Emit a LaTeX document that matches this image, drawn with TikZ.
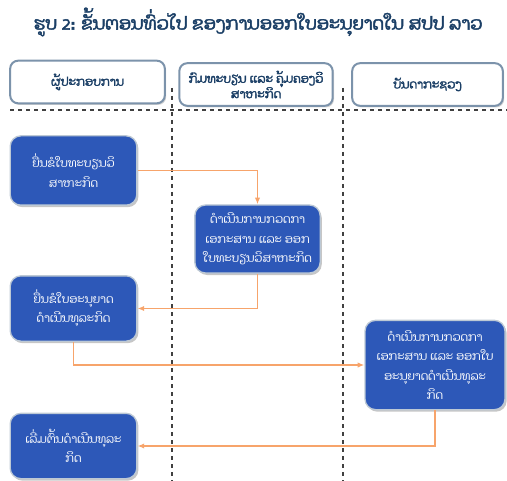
\documentclass[tikz,border=0pt]{standalone}
\usepackage{fontspec}
\newfontfamily\laofont[Script=Lao,AutoFakeBold=2.5]{Dhyana}
\usetikzlibrary{arrows.meta,shadows}

\definecolor{boxblue}{HTML}{2D58B8}
\definecolor{boxedge}{HTML}{7C93AB}
\definecolor{headtext}{HTML}{1B3F66}
\definecolor{linkorange}{HTML}{F7A46B}

\begin{document}
\begin{tikzpicture}[
  x=0.75pt,
  y=-0.75pt,
  head/.style={
    draw=boxedge,
    line width=1.5pt,
    fill=white,
    rounded corners=6pt,
    align=center,
    text=headtext,
    font=\laofont\bfseries\fontsize{9}{11.5}\selectfont,
    minimum height=32pt,
    drop shadow={opacity=0.35,shadow xshift=1pt,shadow yshift=-1.2pt}
  },
  task/.style={
    draw=boxedge!50,
    line width=1pt,
    fill=boxblue,
    rounded corners=8pt,
    align=center,
    text=white,
    inner sep=2pt,
    font=\laofont\fontsize{8.8}{14.5}\selectfont,
    minimum width=95pt,
    drop shadow={opacity=0.45,shadow xshift=1.2pt,shadow yshift=-1.5pt}
  },
  lane/.style={dashed,thick,black!75},
  line/.style={-{Latex[length=5pt,width=4pt]},linkorange,line width=1.1pt}
]
\useasboundingbox (0,0) rectangle (507,481);

% title
\node[font=\laofont\bfseries\fontsize{13.4}{16}\selectfont,text=headtext] (title) at (258,22)
  {ຮູບ 2: ຂັ້ນຕອນທົ່ວໄປ ຂອງການອອກໃບອະນຸຍາດໃນ ສປປ ລາວ};

% swimlanes
\draw[lane] (10,110) -- (507,110);
\draw[lane] (172,88) -- (172,481);
\draw[lane] (343,88) -- (343,481);

\node[head,minimum width=116pt] (bizhead) at (87.5,82) {ຜູ້ປະກອບການ};
\node[head,minimum width=115pt] (erohead) at (256,84.5) {ກົມທະບຽນ ແລະ ຄຸ້ມຄອງວິ\\ສາຫະກິດ};
\node[head,minimum width=113pt] (minhead) at (427.5,84.5) {ບັນດາກະຊວງ};

\node[task,minimum height=52pt] (regapply) at (73.5,170.5) {ຍື່ນຂໍໃບທະບຽນວິ\\ສາຫະກິດ};
\node[task,minimum width=94pt,minimum height=51pt] (regcheck) at (257.5,239) {ດຳເນີນການກວດກາ\\ເອກະສານ ແລະ ອອກ\\ໃບທະບຽນວິສາຫະກິດ};
\node[task,minimum height=49pt] (licapply) at (73.5,308.5) {ຍື່ນຂໍໃບອະນຸຍາດ\\ດຳເນີນທຸລະກິດ};
\node[task,minimum width=105pt,minimum height=67pt] (liccheck) at (435,365) {ດຳເນີນການກວດກາ\\ເອກະສານ ແລະ ອອກໃບ\\ອະນຸຍາດດຳເນີນທຸລະ\\ກິດ};
\node[task,minimum height=49pt] (start) at (73.5,446) {ເລີ່ມຕົ້ນດຳເນີນທຸລະ\\ກິດ};

\draw[line] (regapply) -| (regcheck);
\draw[line] (regcheck) |- (licapply);
\draw[line] (licapply) |- (liccheck);
\draw[line] (liccheck) |- (start);
\end{tikzpicture}
\end{document}
